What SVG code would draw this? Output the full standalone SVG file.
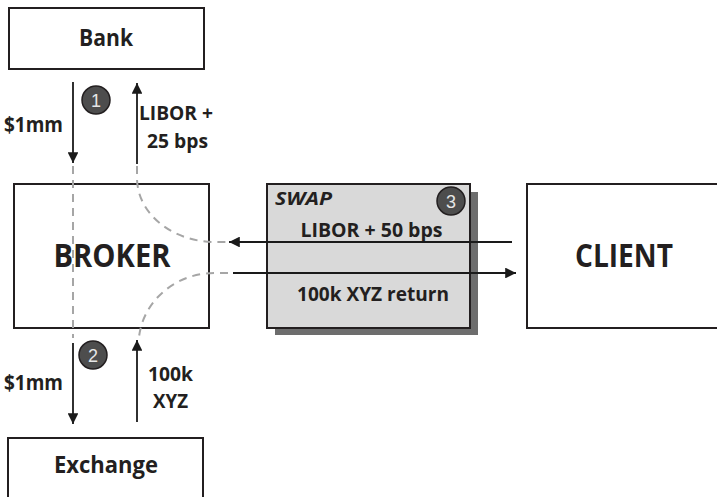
<svg xmlns="http://www.w3.org/2000/svg" width="717" height="497" viewBox="0 0 717 497">
<defs>
<marker id="ah" viewBox="0 0 10 10" refX="10" refY="5" markerWidth="6" markerHeight="6" orient="auto" markerUnits="strokeWidth">
<path d="M0,0 L10,5 L0,10 Z" fill="#1a1a1a"/>
</marker>
</defs>
<style>
.box{fill:#fff;stroke:#231f20;stroke-width:2}
.lbl{font-family:"Open Sans","Liberation Sans",sans-serif;font-weight:bold;fill:#231f20}
.arr{stroke:#1a1a1a;stroke-width:1.8;fill:none;marker-end:url(#ah)}
.dash{stroke:#a6a6a6;stroke-width:2;fill:none;stroke-dasharray:8 6}
.num circle{fill:#4d4d4d;stroke:#231f20;stroke-width:1.5}
.num text{font-family:"Liberation Sans",Arial,sans-serif;font-size:18px;fill:#e6e6e6;text-anchor:middle}
</style>
<rect width="717" height="497" fill="#fff"/>
<g id="swap">
<rect x="275" y="192" width="203" height="143" fill="#6d6d6d"/>
<rect x="267" y="184" width="203" height="144" fill="#d9d9d9" stroke="#231f20" stroke-width="2"/>
<text x="275" y="205" class="lbl" font-size="18" font-style="italic" textLength="57" lengthAdjust="spacingAndGlyphs">SWAP</text>
<text x="371.5" y="237" class="lbl" font-size="20" text-anchor="middle" textLength="142" lengthAdjust="spacingAndGlyphs">LIBOR + 50 bps</text>
<text x="373" y="301" class="lbl" font-size="20" text-anchor="middle" textLength="152" lengthAdjust="spacingAndGlyphs">100k XYZ return</text>
<g class="num"><circle cx="451" cy="201" r="14"/><text x="451" y="207.5">3</text></g>
</g>
<g id="bank">
<rect x="9" y="8" width="195" height="61" class="box"/>
<text x="106" y="45.5" class="lbl" font-size="23" text-anchor="middle" textLength="54" lengthAdjust="spacingAndGlyphs">Bank</text>
</g>
<g id="broker">
<rect x="14" y="184" width="195" height="144" class="box"/>
<text x="112" y="267" class="lbl" font-size="33" text-anchor="middle" textLength="117" lengthAdjust="spacingAndGlyphs">BROKER</text>
</g>
<g id="client">
<rect x="527" y="184" width="220" height="144" class="box"/>
<text x="624" y="267" class="lbl" font-size="33" text-anchor="middle" textLength="98" lengthAdjust="spacingAndGlyphs">CLIENT</text>
</g>
<g id="exchange">
<rect x="8" y="438" width="195" height="80" class="box"/>
<text x="106" y="473" class="lbl" font-size="23" text-anchor="middle" textLength="104" lengthAdjust="spacingAndGlyphs">Exchange</text>
</g>
<g id="connectors">
<path class="dash" d="M73,166 L73,338"/>
<path class="dash" d="M137,166 L137,178 A78,64 0 0 0 215,242 L226,242"/>
<path class="dash" d="M228,273 L215,273 A76,72 0 0 0 139,337"/>
<path class="arr" d="M73,82 L73,163"/>
<path class="arr" d="M137,164 L137,83"/>
<path class="arr" d="M73,343 L73,424"/>
<path class="arr" d="M137,422 L137,340"/>
<path class="arr" d="M512,242 L229,242"/>
<path class="arr" d="M233,273 L516,273"/>
<text x="4" y="131.5" class="lbl" font-size="21" textLength="59" lengthAdjust="spacingAndGlyphs">$1mm</text>
<text x="139" y="120" class="lbl" font-size="20" textLength="74" lengthAdjust="spacingAndGlyphs">LIBOR +</text>
<text x="147" y="148" class="lbl" font-size="20" textLength="61" lengthAdjust="spacingAndGlyphs">25 bps</text>
<text x="4" y="390" class="lbl" font-size="21" textLength="59" lengthAdjust="spacingAndGlyphs">$1mm</text>
<text x="148" y="381" class="lbl" font-size="20" textLength="45" lengthAdjust="spacingAndGlyphs">100k</text>
<text x="153" y="408" class="lbl" font-size="20" textLength="35" lengthAdjust="spacingAndGlyphs">XYZ</text>
<g class="num"><circle cx="96" cy="100" r="14"/><text x="96" y="106.5">1</text></g>
<g class="num"><circle cx="93" cy="355" r="14"/><text x="93" y="361.5">2</text></g>
</g>
</svg>
